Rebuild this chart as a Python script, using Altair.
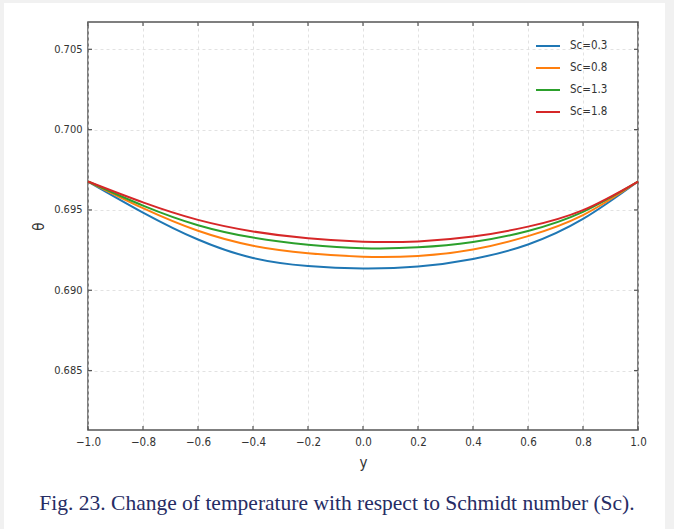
import altair as alt
import pandas as pd

# Dimensionless coordinate across the channel
y_pos = [-1.0, -0.8, -0.6, -0.4, -0.2, 0.0, 0.2, 0.4, 0.6, 0.8, 1.0]

# Temperature profiles theta(y) for each Schmidt number
theta_sc03 = [0.69677, 0.69484, 0.69316, 0.69201, 0.69151, 0.69136, 0.69148, 0.69195, 0.69285, 0.69444, 0.69677]
theta_sc08 = [0.69677, 0.69511, 0.69370, 0.69277, 0.69230, 0.69209, 0.69214, 0.69254, 0.69337, 0.69468, 0.69677]
theta_sc13 = [0.69677, 0.69527, 0.69405, 0.69328, 0.69284, 0.69262, 0.69267, 0.69300, 0.69369, 0.69488, 0.69677]
theta_sc18 = [0.69677, 0.69547, 0.69438, 0.69366, 0.69323, 0.69302, 0.69304, 0.69334, 0.69396, 0.69499, 0.69677]

series_names = ["Sc=0.3", "Sc=0.8", "Sc=1.3", "Sc=1.8"]
series_colors = ["#1f77b4", "#ff7f0e", "#2ca02c", "#d62728"]

x_ticks = [-1.0, -0.8, -0.6, -0.4, -0.2, 0.0, 0.2, 0.4, 0.6, 0.8, 1.0]
y_ticks = [0.685, 0.690, 0.695, 0.700, 0.705]

caption = "Fig. 23. Change of temperature with respect to Schmidt number (Sc)."

rows = []
for name, vals in zip(series_names, [theta_sc03, theta_sc08, theta_sc13, theta_sc18]):
    for yy, th in zip(y_pos, vals):
        rows.append({"y": yy, "theta": th, "series": name})
df = pd.DataFrame(rows)

W, H = 550, 408
PAD_L, PAD_T = 88, 22
FONT = "DejaVu Sans Condensed, Liberation Sans Narrow, DejaVu Sans"

x_scale = alt.Scale(domain=[-1.0, 1.0], nice=False, zero=False)
y_scale = alt.Scale(domain=[0.6813, 0.7067], nice=False, zero=False)

one = pd.DataFrame({"k": [0]})
edge = "#f1f1f1"

# light page margins around the white figure card
left_edge = alt.Chart(one).mark_rect(color=edge).encode(
    x=alt.value(-PAD_L), x2=alt.value(-PAD_L + 4), y=alt.value(-PAD_T), y2=alt.value(529 - PAD_T)
)
top_edge = alt.Chart(one).mark_rect(color=edge).encode(
    x=alt.value(-PAD_L), x2=alt.value(674 - PAD_L), y=alt.value(-PAD_T), y2=alt.value(-PAD_T + 3)
)
right_edge = alt.Chart(one).mark_rect(color=edge).encode(
    x=alt.value(665 - PAD_L), x2=alt.value(674 - PAD_L), y=alt.value(-PAD_T), y2=alt.value(529 - PAD_T)
)

lines = alt.Chart(df).mark_line(strokeWidth=2, interpolate="natural").encode(
    x=alt.X(
        "y:Q",
        scale=x_scale,
        axis=alt.Axis(
            values=x_ticks,
            format=".1f",
            labelExpr="replace(datum.label, '-', '\u2212')",
            labelFlush=False,
            labelFontSize=11.5,
            title="y",
            titleFontSize=15,
            titleFontWeight="normal",
            titlePadding=8,
            labelPadding=6,
            tickSize=0,
            domain=False,
        ),
    ),
    y=alt.Y(
        "theta:Q",
        scale=y_scale,
        axis=alt.Axis(
            values=y_ticks,
            format=".3f",
            title="θ",
            titleFontSize=15,
            titleFontWeight="normal",
            titlePadding=7,
            labelPadding=6,
            tickSize=0,
            domain=False,
        ),
    ),
    color=alt.Color(
        "series:N",
        scale=alt.Scale(domain=series_names, range=series_colors),
        legend=alt.Legend(
            title=None,
            orient="none",
            legendX=447,
            legendY=11,
            symbolType="stroke",
            symbolSize=576,
            symbolStrokeWidth=2,
            labelFontSize=11.5,
            labelOffset=9,
            rowPadding=3,
            padding=0,
            labelFont=FONT,
            labelColor="#333333",
        ),
    ),
)

# inward-pointing ticks on all four sides
xt = pd.DataFrame({"t": x_ticks})
yt = pd.DataFrame({"t": y_ticks})
tick_color = "#555555"
bottom_ticks = alt.Chart(xt).mark_rule(color=tick_color, strokeWidth=1.2).encode(
    x=alt.X("t:Q", scale=x_scale), y=alt.value(H), y2=alt.value(H - 4)
)
top_ticks = alt.Chart(xt).mark_rule(color=tick_color, strokeWidth=1.2).encode(
    x=alt.X("t:Q", scale=x_scale), y=alt.value(0), y2=alt.value(4)
)
left_ticks = alt.Chart(yt).mark_rule(color=tick_color, strokeWidth=1.2).encode(
    y=alt.Y("t:Q", scale=y_scale), x=alt.value(0), x2=alt.value(4)
)
right_ticks = alt.Chart(yt).mark_rule(color=tick_color, strokeWidth=1.2).encode(
    y=alt.Y("t:Q", scale=y_scale), x=alt.value(W), x2=alt.value(W - 4)
)

# figure caption under the axes
caption_text = alt.Chart(one).mark_text(
    text=caption,
    font="Liberation Serif",
    fontSize=21.5,
    color="#262c64",
    align="center",
    baseline="alphabetic",
).encode(x=alt.value(337 - PAD_L), y=alt.value(510 - PAD_T))

chart = (
    alt.layer(
        left_edge, top_edge, right_edge, lines,
        bottom_ticks, top_ticks, left_ticks, right_ticks, caption_text,
    )
    .properties(
        width=W,
        height=H,
        padding={"left": PAD_L, "top": PAD_T, "right": 674 - PAD_L - W, "bottom": 529 - PAD_T - H},
        autosize=alt.AutoSizeParams(type="none"),
        background="white",
    )
    .configure_view(stroke="#555555", strokeWidth=1.5)
    .configure_axis(
        labelFont=FONT,
        titleFont=FONT,
        labelFontSize=11,
        labelColor="#333333",
        titleColor="#333333",
        gridColor="#dadada",
        gridDash=[3, 3],
        gridWidth=0.8,
    )
)

chart.save("out.html", embed_options={"renderer": "svg", "actions": False})
